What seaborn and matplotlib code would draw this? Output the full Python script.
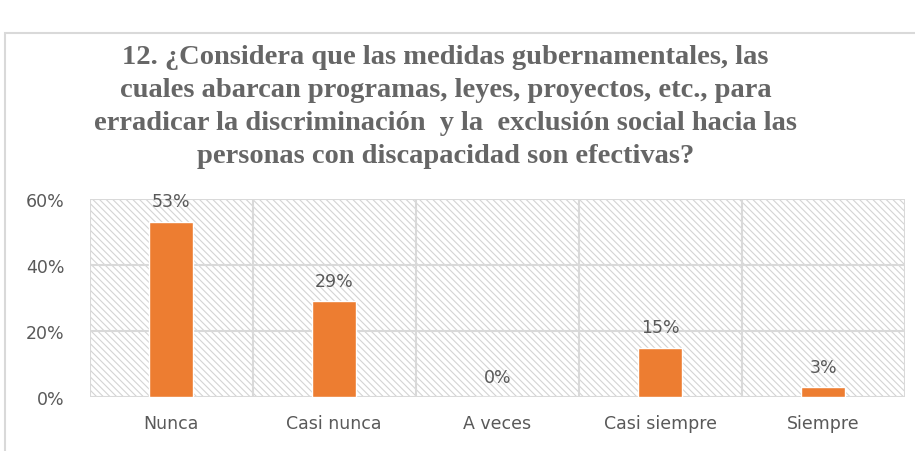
import matplotlib.pyplot as plt
import matplotlib.patches as mpatches
import seaborn as sns
import pandas as pd

categorias = ["Nunca", "Casi nunca", "A veces", "Casi siempre", "Siempre"]
porcentajes = [53, 29, 0, 15, 3]
yticks = [0, 20, 40, 60]
titulo = ("12. ¿Considera que las medidas gubernamentales, las\n"
          "cuales abarcan programas, leyes, proyectos, etc., para\n"
          "erradicar la discriminación  y la  exclusión social hacia las\n"
          "personas con discapacidad son efectivas?")

df = pd.DataFrame({"cat": categorias, "pct": porcentajes})

sns.set_style("white")
plt.rcParams["font.family"] = ["DejaVu Sans"]
plt.rcParams["hatch.color"] = "#d4d4d4"
plt.rcParams["hatch.linewidth"] = 0.8

gris = "#595959"
fig = plt.figure(figsize=(9.15, 4.52), dpi=100)
ax = fig.add_axes([0.098, 0.119, 0.891, 0.439])

# outer chart frame
fig.patches.append(mpatches.Rectangle((0.006, -0.05), 1.1, 0.975, transform=fig.transFigure,
                                      fill=False, edgecolor="#d9d9d9", linewidth=1.5))

# hatched background
ax.add_patch(mpatches.Rectangle((0, 0), 1, 1, transform=ax.transAxes, facecolor="white",
                                edgecolor="#d4d4d4", hatch="\\\\\\\\\\", linewidth=0, zorder=0))

sns.barplot(data=df, x="cat", y="pct", color="#ed7d31", width=0.27, saturation=1, ax=ax, zorder=3)

ax.set_xlim(-0.5, 4.5)
ax.set_ylim(0, 60)
ax.set_yticks(yticks)
ax.set_yticklabels([f"{v}%" for v in yticks])
for y in yticks:
    ax.axhline(y, color="#d9d9d9", linewidth=1.5, zorder=1)
for x in [-0.5, 0.5, 1.5, 2.5, 3.5, 4.5]:
    ax.axvline(x, color="#d9d9d9", linewidth=1.5, zorder=1)
for s in ax.spines.values():
    s.set_visible(False)

for i, v in enumerate(porcentajes):
    ax.text(i, v + 3.5, f"{v}%", ha="center", va="bottom", fontsize=12.5, color=gris, zorder=4)

ax.set_xlabel("")
ax.set_ylabel("")
ax.tick_params(axis="both", length=0, labelsize=12.5, labelcolor=gris)
ax.tick_params(axis="x", pad=12)
ax.tick_params(axis="y", pad=18)

fig.text(0.487, 0.9, titulo, ha="center", va="top", fontsize=20.5, fontweight="bold",
         color="#666666", family="Liberation Serif", linespacing=1.42)

fig.savefig("out.png", dpi=100)
